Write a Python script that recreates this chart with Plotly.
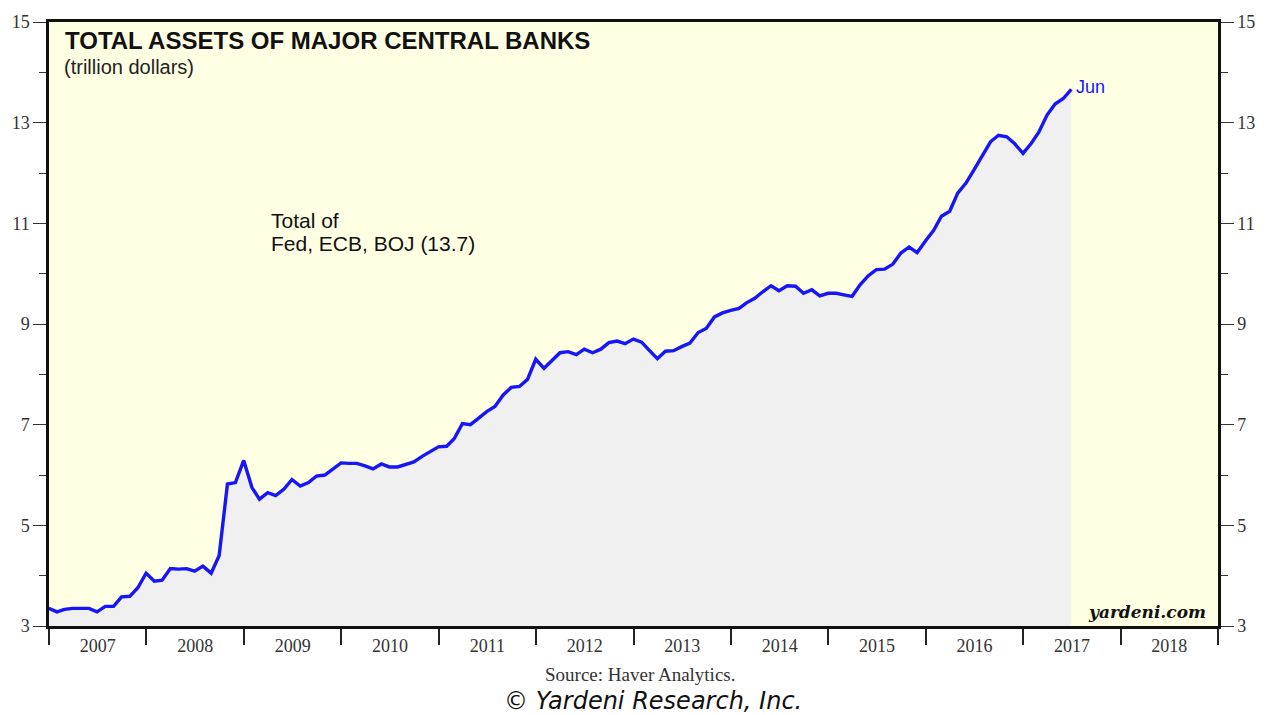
import pandas as pd
import plotly.graph_objects as go

# Month-end values, Dec 2006 .. Jun 2017 (trillion dollars)
start_month = "2006-12-31"
total_assets = [
    3.35, 3.28, 3.33, 3.35, 3.35, 3.35, 3.28, 3.39, 3.39, 3.58, 3.59, 3.76,
    4.05, 3.89, 3.91, 4.14, 4.13, 4.14, 4.09, 4.19, 4.05, 4.40, 5.82, 5.85,
    6.29, 5.75, 5.52, 5.65, 5.59, 5.72, 5.91, 5.78, 5.85, 5.98, 6.00, 6.11,
    6.24, 6.23, 6.23, 6.18, 6.12, 6.22, 6.16, 6.16, 6.21, 6.26, 6.37, 6.46,
    6.56, 6.57, 6.72, 7.02, 7.00, 7.13, 7.26, 7.36, 7.59, 7.74, 7.76, 7.90,
    8.30, 8.12, 8.28, 8.43, 8.45, 8.39, 8.50, 8.43, 8.50, 8.63, 8.66, 8.61,
    8.70, 8.64, 8.48, 8.31, 8.46, 8.47, 8.55, 8.62, 8.83, 8.91, 9.14, 9.22,
    9.27, 9.31, 9.42, 9.51, 9.64, 9.76, 9.66, 9.76, 9.75, 9.61, 9.68, 9.56,
    9.61, 9.61, 9.58, 9.55, 9.78, 9.96, 10.08, 10.09, 10.19, 10.41, 10.53, 10.42,
    10.65, 10.86, 11.14, 11.24, 11.60, 11.80, 12.06, 12.33, 12.62, 12.75, 12.72, 12.58,
    12.39, 12.59, 12.81, 13.15, 13.37, 13.48, 13.66,
]
dates = pd.date_range(start_month, periods=len(total_assets), freq="ME")

y_range = [3, 15]
x_range = ["2007-01-01", "2019-01-01"]

SERIF = "Liberation Serif, Times New Roman, serif"
SANS = "Liberation Sans, Arial, sans-serif"
WIDE_SANS = "DejaVu Sans, Verdana, sans-serif"
WIDE_SERIF = "DejaVu Serif, Georgia, serif"
BLUE = "#1616F6"

# plot-area pixel geometry helpers (for placing text annotations in paper coords)
PL, PR, PT, PB = 48, 1218, 18, 626
def px(x):
    return (x - PL) / (PR - PL)
def py(y):
    return 1 - (y - PT) / (PB - PT)

fig = go.Figure()
fig.add_trace(go.Scatter(
    x=dates, y=total_assets, mode="lines",
    line=dict(color=BLUE, width=3.4),
    fill="tozeroy", fillcolor="#F0F0F0",
    hoverinfo="skip", showlegend=False,
))
# invisible trace for the right-hand axis
fig.add_trace(go.Scatter(
    x=dates, y=total_assets, mode="lines", yaxis="y2",
    line=dict(color="rgba(0,0,0,0)", width=0),
    hoverinfo="skip", showlegend=False,
))

yax = dict(
    range=y_range, tick0=3, dtick=2, ticks="outside", ticklen=13, tickwidth=1.3,
    tickcolor="#333", showgrid=False, zeroline=False,
    showline=True, linecolor="#111", linewidth=2.5,
    tickfont=dict(family=SERIF, size=18, color="#333"),
    minor=dict(dtick=1, tick0=3, ticks="outside", ticklen=7, tickcolor="#333", showgrid=False),
)

fig.update_layout(
    width=1268, height=715,
    margin=dict(l=PL, r=1268 - PR, t=PT, b=715 - PB),
    paper_bgcolor="white", plot_bgcolor="#FFFFE4",
    xaxis=dict(
        type="date", range=x_range, tick0="2007-01-01", dtick="M12",
        ticklabelmode="period", tickformat="%Y",
        ticks="outside", ticklen=16, tickwidth=1.8, tickcolor="#222",
        ticklabelstandoff=-14,
        showgrid=False, zeroline=False,
        showline=True, linecolor="#111", linewidth=2.5, mirror=True,
        tickfont=dict(family=SERIF, size=18, color="#333"),
    ),
    yaxis=yax,
    yaxis2=dict(yax, overlaying="y", side="right", matches="y", showline=True),
    annotations=[
        dict(x=px(62), y=py(37), xref="paper", yref="paper", xanchor="left", yanchor="middle",
             text="<b>TOTAL ASSETS OF MAJOR CENTRAL BANKS</b>", showarrow=False,
             font=dict(family=SANS, size=24, color="#111")),
        dict(x=px(61), y=py(63), xref="paper", yref="paper", xanchor="left", yanchor="middle",
             text="(trillion dollars)", showarrow=False,
             font=dict(family=SANS, size=20, color="#222")),
        dict(x=px(268), y=py(218), xref="paper", yref="paper", xanchor="left", yanchor="middle",
             text="Total of", showarrow=False,
             font=dict(family=SANS, size=21, color="#111")),
        dict(x=px(268), y=py(241), xref="paper", yref="paper", xanchor="left", yanchor="middle",
             text="Fed, ECB, BOJ (13.7)", showarrow=False,
             font=dict(family=SANS, size=21, color="#111")),
        dict(x=dates[-1], y=total_assets[-1], xref="x", yref="y", xanchor="left", yanchor="middle",
             xshift=3, yshift=2, text="Jun", showarrow=False,
             font=dict(family=SANS, size=18, color=BLUE)),
        dict(x=px(1208), y=py(612), xref="paper", yref="paper", xanchor="right", yanchor="middle",
             text="<b><i>yardeni.com</i></b>", showarrow=False,
             font=dict(family=WIDE_SERIF, size=17, color="#111")),
        dict(x=px(640), y=py(675), xref="paper", yref="paper", xanchor="center", yanchor="middle",
             text="Source: Haver Analytics.", showarrow=False,
             font=dict(family=SERIF, size=19, color="#333")),
        dict(x=px(653), y=py(701), xref="paper", yref="paper", xanchor="center", yanchor="middle",
             text="<i>© Yardeni Research, Inc.</i>", showarrow=False,
             font=dict(family=WIDE_SANS, size=24, color="#111")),
    ],
)

fig.write_html("out.html")
